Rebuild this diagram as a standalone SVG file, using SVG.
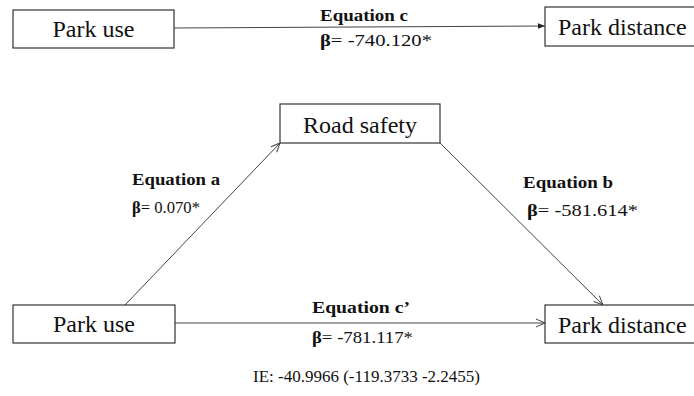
<svg xmlns="http://www.w3.org/2000/svg" width="694" height="396" viewBox="0 0 694 396">
<defs>
<style>
.box{fill:#fff;stroke:#333;stroke-width:1.2}
.node{font-size:24px;fill:#111}
.lab{font-size:16px;fill:#111}
.b{font-weight:bold}
.edge{stroke:#444;stroke-width:1;fill:none}
</style>
<marker id="open" viewBox="0 0 10 10" refX="10" refY="5" markerWidth="10" markerHeight="10" markerUnits="userSpaceOnUse" orient="auto">
<path d="M1,1 L10,5 L1,9" fill="none" stroke="#444" stroke-width="1"/>
</marker>
<marker id="solid" viewBox="0 0 10 10" refX="10" refY="5" markerWidth="7" markerHeight="7" markerUnits="userSpaceOnUse" orient="auto">
<path d="M0,1 L10,5 L0,9 Z" fill="#222"/>
</marker>
</defs>
<rect width="694" height="396" fill="#fff"/>
<g id="connectors">
<line class="edge" x1="174" y1="28" x2="545" y2="26" marker-end="url(#solid)"/>
<line class="edge" x1="125" y1="305" x2="280" y2="143" marker-end="url(#open)"/>
<line class="edge" x1="440" y1="143" x2="603" y2="305" marker-end="url(#open)"/>
<line class="edge" x1="175" y1="323" x2="545" y2="323" marker-end="url(#open)"/>
</g>
<g font-family="'Liberation Serif', 'DejaVu Serif', serif">
<g id="park-use-top">
<rect class="box" x="13" y="10" width="161" height="38"/>
<text class="node" x="93.5" y="37" text-anchor="middle">Park use</text>
</g>
<g id="park-distance-top">
<rect class="box" x="545" y="7" width="160" height="39"/>
<text class="node" x="558" y="35">Park distance</text>
</g>
<g id="road-safety">
<rect class="box" x="280" y="104" width="160" height="39"/>
<text class="node" x="360" y="133" text-anchor="middle">Road safety</text>
</g>
<g id="park-use-bottom">
<rect class="box" x="13" y="305" width="162" height="38"/>
<text class="node" x="94" y="332" text-anchor="middle">Park use</text>
</g>
<g id="park-distance-bottom">
<rect class="box" x="545" y="305" width="160" height="38"/>
<text class="node" x="558" y="333">Park distance</text>
</g>
<g id="labels">
<text class="lab b" x="320" y="21" textLength="88" lengthAdjust="spacingAndGlyphs">Equation c</text>
<text class="lab" x="320" y="46" textLength="112" lengthAdjust="spacingAndGlyphs"><tspan class="b">β</tspan>= -740.120*</text>
<text class="lab b" x="132" y="185" textLength="88" lengthAdjust="spacingAndGlyphs">Equation a</text>
<text class="lab" x="132" y="213" textLength="68" lengthAdjust="spacingAndGlyphs"><tspan class="b">β</tspan>= 0.070*</text>
<text class="lab b" x="523" y="188" textLength="90" lengthAdjust="spacingAndGlyphs">Equation b</text>
<text class="lab" x="527" y="216" textLength="111" lengthAdjust="spacingAndGlyphs"><tspan class="b">β</tspan>= -581.614*</text>
<text class="lab b" x="312" y="313" textLength="98" lengthAdjust="spacingAndGlyphs">Equation c’</text>
<text class="lab" x="312" y="343" textLength="101" lengthAdjust="spacingAndGlyphs"><tspan class="b">β</tspan>= -781.117*</text>
<text class="lab" x="253" y="382" textLength="227" lengthAdjust="spacingAndGlyphs">IE: -40.9966 (-119.3733 -2.2455)</text>
</g>
</g>
</svg>
